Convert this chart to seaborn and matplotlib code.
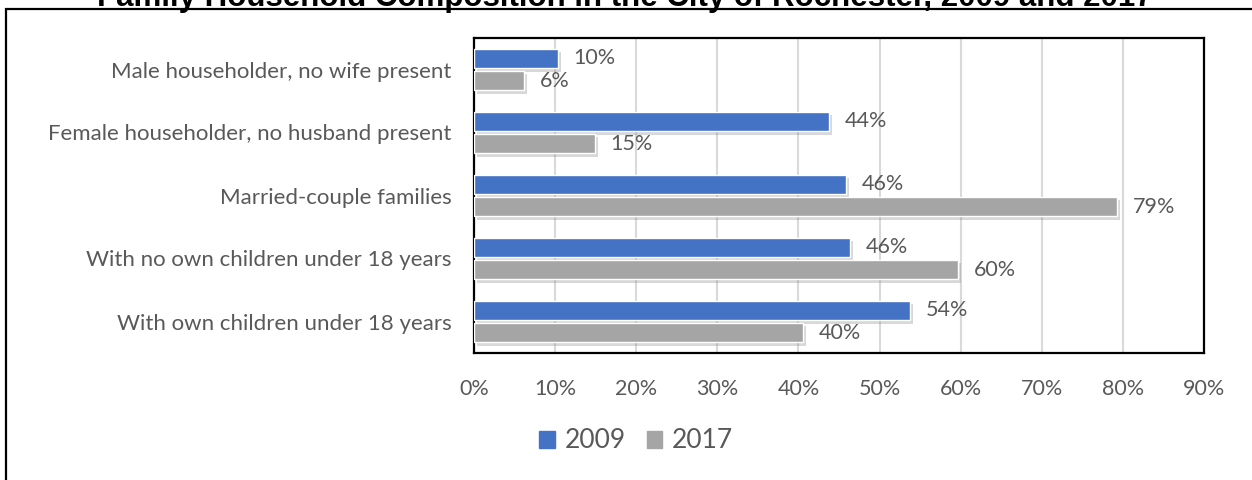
import matplotlib
matplotlib.use("Agg")
import matplotlib.pyplot as plt
import matplotlib.patheffects as pe
from matplotlib.patches import Rectangle
import seaborn as sns
import pandas as pd

# data
categories = [
    "Male householder, no wife present",
    "Female householder, no husband present",
    "Married-couple families",
    "With no own children under 18 years",
    "With own children under 18 years",
]
years = ["2009", "2017"]
values_2009 = [10.4, 43.8, 45.9, 46.4, 53.8]
values_2017 = [6.2, 14.9, 79.3, 59.7, 40.6]
labels_2009 = ["10%", "44%", "46%", "46%", "54%"]
labels_2017 = ["6%", "15%", "79%", "60%", "40%"]
xticks = [0, 10, 20, 30, 40, 50, 60, 70, 80, 90]

title = "Family Household Composition in the City of Rochester, 2009 and 2017"

df = pd.DataFrame({
    "category": categories * 2,
    "year": [years[0]] * len(categories) + [years[1]] * len(categories),
    "value": values_2009 + values_2017,
    "label": labels_2009 + labels_2017,
})

sns.set_theme(style="white")
plt.rcParams["font.family"] = ["Lato", "DejaVu Sans"]

text_color = "#595959"
palette = {"2009": "#4472C4", "2017": "#A5A5A5"}

fig = plt.figure(figsize=(12.52, 4.8), dpi=100)
ax = fig.add_axes([474 / 1252, 1 - 353 / 480, 730 / 1252, 315 / 480])

sns.barplot(data=df, y="category", x="value", hue="year", order=categories,
            hue_order=years, palette=palette, orient="h", width=0.7, gap=0.1,
            saturation=1, ax=ax, legend=False, zorder=3)

shadow = [pe.SimplePatchShadow(offset=(2, -2.5), shadow_rgbFace="#7f7f7f", alpha=0.3),
          pe.Normal()]
for p in ax.patches:
    p.set_path_effects(shadow)

for cont, labs in zip(ax.containers, [labels_2009, labels_2017]):
    ax.bar_label(cont, labels=labs, padding=11, fontsize=15.5, color=text_color)

ax.set_xlim(0, 90)
ax.set_ylim(len(categories) - 0.5, -0.5)
ax.set_xticks(xticks)
ax.set_xticklabels([f"{t}%" for t in xticks])
ax.xaxis.grid(True, color="#D9D9D9", linewidth=1.5, zorder=0)
ax.set_axisbelow(True)
ax.set_xlabel("")
ax.set_ylabel("")
ax.tick_params(axis="x", length=0, pad=19, labelsize=15.5, labelcolor=text_color)
ax.tick_params(axis="y", length=0, pad=16, labelsize=16, labelcolor=text_color)
for s in ax.spines.values():
    s.set_visible(True)
    s.set_color("black")
    s.set_linewidth(1.6)

# legend
handles = [Rectangle((0, 0), 1, 1, color=palette[y]) for y in years]
fig.legend(handles, years, loc="center", bbox_to_anchor=(636 / 1252, 1 - 441 / 480),
           ncol=2, frameon=False, fontsize=19, handlelength=0.6, handleheight=0.6,
           handletextpad=0.35, columnspacing=0.8, labelcolor=text_color)

# outer frame (extends past the image on right/bottom)
fig.patches.append(Rectangle((6 / 1252, -0.1), 1.2, 1 - 9 / 480 + 0.1,
                             transform=fig.transFigure, fill=False,
                             edgecolor="black", linewidth=1.6))

fig.text(625 / 1252, 1 - 6 / 480, title, ha="center", va="baseline",
         fontsize=22.5, fontweight="bold", family=["Liberation Sans", "DejaVu Sans"],
         color="black")

fig.savefig("out.png", dpi=100)
